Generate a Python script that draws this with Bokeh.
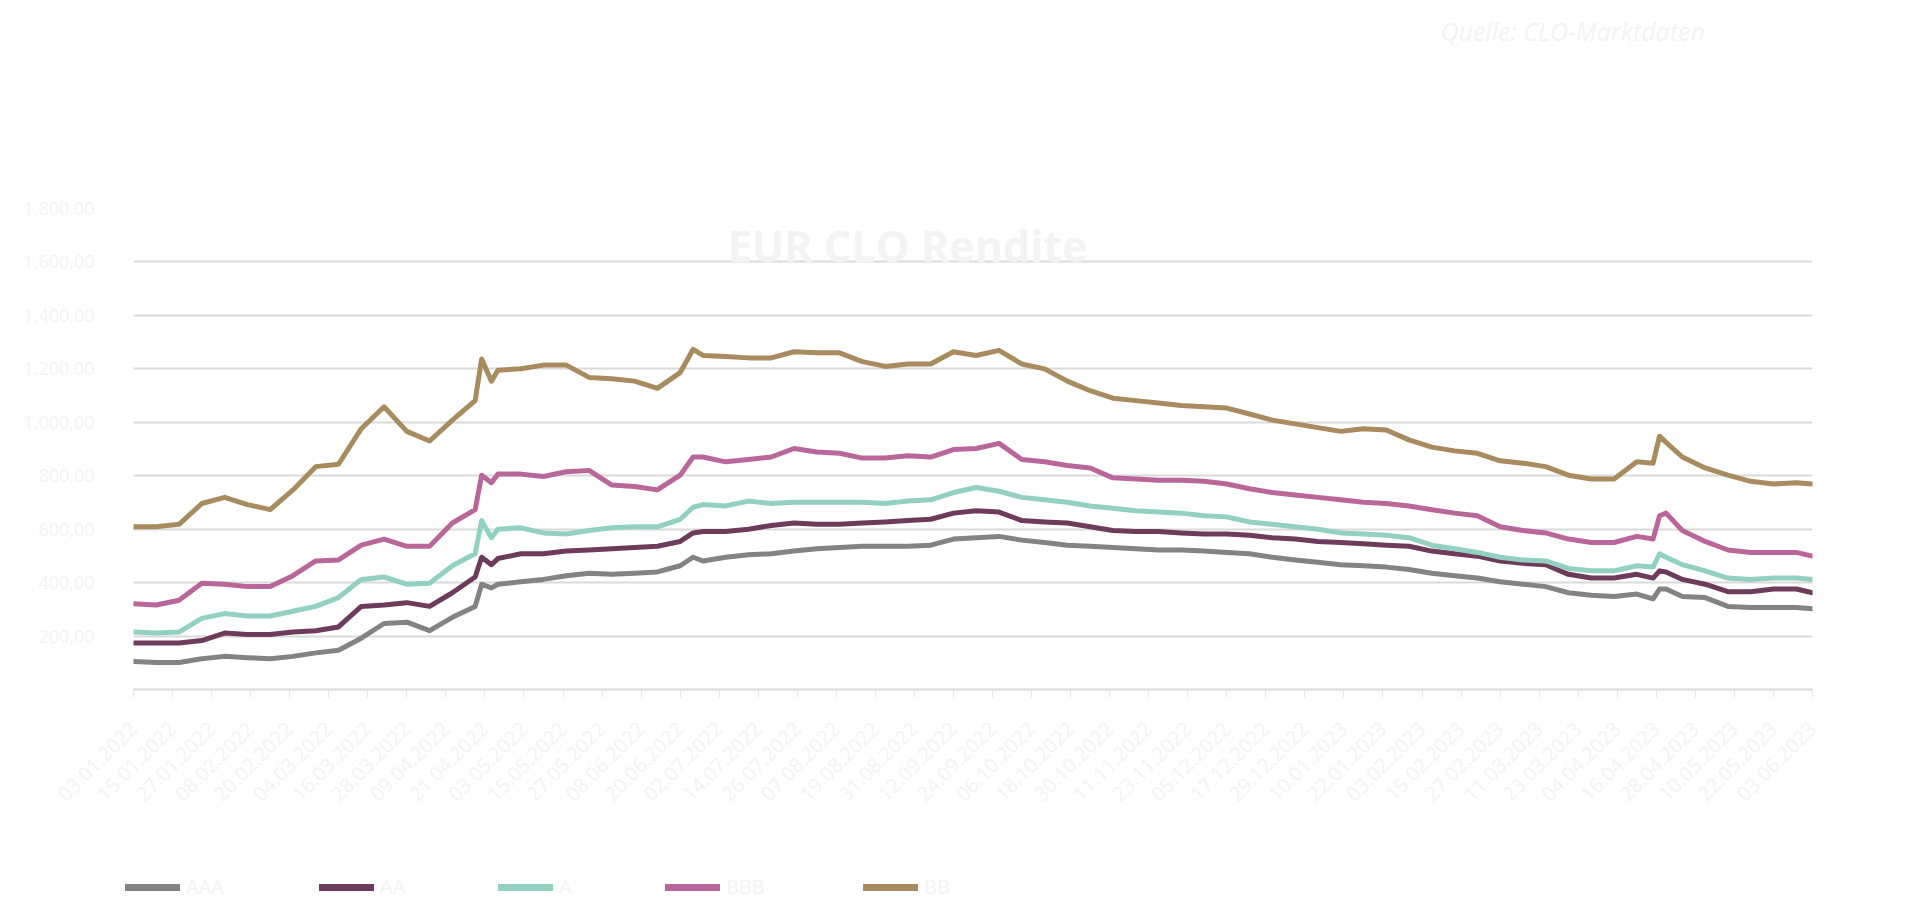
import pandas as pd
from bokeh.plotting import figure
from bokeh.layouts import column
from bokeh.models import (Range1d, FixedTicker, DatetimeTickFormatter, Label,
                          Legend, LegendItem)
from bokeh.embed import file_html
from bokeh.resources import INLINE

# ---------------- data ----------------
dates = [
    "2022-01-03", "2022-01-10", "2022-01-17", "2022-01-24", "2022-01-31",
    "2022-02-07", "2022-02-14", "2022-02-21", "2022-02-28",
    "2022-03-07", "2022-03-14", "2022-03-21", "2022-03-28",
    "2022-04-04", "2022-04-11", "2022-04-18", "2022-04-20", "2022-04-23", "2022-04-25",
    "2022-05-02", "2022-05-09", "2022-05-16", "2022-05-23", "2022-05-30",
    "2022-06-06", "2022-06-13", "2022-06-20", "2022-06-24", "2022-06-27",
    "2022-07-04", "2022-07-11", "2022-07-18", "2022-07-25",
    "2022-08-01", "2022-08-08", "2022-08-15", "2022-08-22", "2022-08-29",
    "2022-09-05", "2022-09-12", "2022-09-19", "2022-09-26",
    "2022-10-03", "2022-10-10", "2022-10-17", "2022-10-24", "2022-10-31",
    "2022-11-07", "2022-11-14", "2022-11-21", "2022-11-28",
    "2022-12-05", "2022-12-12", "2022-12-19", "2022-12-26",
    "2023-01-02", "2023-01-09", "2023-01-16", "2023-01-23", "2023-01-30",
    "2023-02-06", "2023-02-13", "2023-02-20", "2023-02-27",
    "2023-03-06", "2023-03-13", "2023-03-20", "2023-03-27",
    "2023-04-03", "2023-04-10", "2023-04-15", "2023-04-17", "2023-04-19", "2023-04-24",
    "2023-05-01", "2023-05-08", "2023-05-15", "2023-05-22", "2023-05-29", "2023-06-03",
]

aaa = [105, 101, 101, 115, 124, 119, 115, 124, 137, 147, 192, 247, 252, 220, 270, 311,
       394, 380, 394, 403, 412, 426, 435, 431, 435, 440, 463, 495, 481, 495, 504, 508,
       518, 527, 531, 536, 536, 536, 540, 563, 568, 573, 559, 550, 540, 536, 531, 527,
       522, 522, 518, 513, 508, 495, 485, 476, 467, 463, 458, 449, 435, 426, 417, 403,
       394, 385, 362, 353, 348, 357, 339, 376, 376, 348, 344, 311, 307, 307, 307, 302]

aa = [174, 174, 174, 183, 211, 206, 206, 215, 220, 234, 311, 316, 325, 311, 362, 421,
      495, 467, 490, 508, 508, 518, 522, 527, 531, 536, 554, 586, 591, 591, 600, 614,
      623, 618, 618, 623, 627, 632, 637, 660, 669, 664, 632, 627, 623, 609, 595, 591,
      591, 586, 582, 582, 577, 568, 563, 554, 550, 545, 540, 536, 518, 508, 499, 481,
      472, 467, 431, 417, 417, 431, 417, 444, 440, 412, 394, 366, 366, 376, 376, 362]

a = [215, 211, 215, 266, 284, 275, 275, 293, 311, 344, 412, 421, 394, 398, 463, 508,
     632, 568, 600, 605, 586, 582, 595, 605, 609, 609, 637, 682, 692, 687, 705, 696,
     701, 701, 701, 701, 696, 705, 710, 737, 756, 742, 719, 710, 701, 687, 678, 669,
     664, 660, 650, 646, 627, 618, 609, 600, 586, 582, 577, 568, 540, 527, 513, 495,
     485, 481, 453, 444, 444, 463, 458, 508, 495, 467, 444, 417, 412, 417, 417, 412]

bbb = [321, 316, 334, 398, 394, 385, 385, 426, 481, 485, 540, 563, 536, 536, 623, 673,
       802, 774, 806, 806, 797, 815, 820, 765, 760, 747, 802, 870, 870, 852, 861, 870,
       902, 889, 884, 866, 866, 875, 870, 898, 902, 921, 861, 852, 838, 829, 792, 788,
       783, 783, 779, 769, 751, 737, 728, 719, 710, 701, 696, 687, 673, 660, 650, 609,
       595, 586, 563, 550, 550, 573, 563, 650, 660, 595, 554, 522, 513, 513, 513, 499]

bb = [609, 609, 618, 696, 719, 692, 673, 747, 834, 843, 976, 1058, 966, 930, 1008, 1081,
      1237, 1154, 1195, 1200, 1214, 1214, 1168, 1163, 1154, 1127, 1186, 1273, 1250, 1246, 1241, 1241,
      1264, 1260, 1260, 1227, 1209, 1218, 1218, 1264, 1250, 1269, 1218, 1200, 1154, 1118, 1090, 1081,
      1072, 1063, 1058, 1053, 1031, 1008, 994, 980, 966, 976, 971, 934, 907, 893, 884, 856,
      847, 834, 802, 788, 788, 852, 847, 948, 925, 870, 829, 802, 779, 769, 774, 769]

series_names = ["AAA", "AA", "A", "BBB", "BB"]
series_values = [aaa, aa, a, bbb, bb]
series_colors = ["#838383", "#6d3b5c", "#92d0c2", "#b9679b", "#a88b5f"]

y_ticks = [0, 200, 400, 600, 800, 1000, 1200, 1400, 1600, 1800]
y_tick_labels = ["", "200,00", "400,00", "600,00", "800,00", "1.000,00",
                 "1.200,00", "1.400,00", "1.600,00", "1.800,00"]

x_start = "2022-01-03"
x_end = "2023-06-03"
x_tick_count = 44
x_tick_step = "12D"

title_text = "EUR CLO Rendite"
source_text = "Quelle: CLO-Marktdaten"

# ---------------- style ----------------
FAINT = "#f3f3f3"
GRID = "#dadada"
FONT = "Open Sans"
W = 1904


def blank_fig(h):
    f = figure(width=W, height=h, x_range=Range1d(0, 1), y_range=Range1d(0, 1),
               x_axis_type=None, y_axis_type=None, min_border=0,
               output_backend="svg", toolbar_location=None)
    f.frame_align = False
    f.outline_line_color = None
    f.grid.visible = False
    return f


# ---------------- header strip with the source note ----------------
top = blank_fig(60)
top.add_layout(Label(x=1440, y=30, x_units="screen", y_units="screen", text=source_text,
                     text_align="left", text_baseline="middle",
                     text_font=FONT, text_font_size="25px", text_font_style="italic",
                     text_color=FAINT))

# ---------------- main chart ----------------
x = pd.to_datetime(dates)
tick_dates = pd.date_range(x_start, periods=x_tick_count, freq=x_tick_step)
tick_ms = [int(t.value // 10**6) for t in tick_dates]

p = figure(width=W, height=800, x_axis_type="datetime",
           x_range=Range1d(pd.Timestamp(x_start), pd.Timestamp(x_end)),
           y_range=Range1d(0, 1800),
           min_border_left=133, min_border_right=92,
           min_border_top=148, min_border_bottom=171,
           output_backend="svg", toolbar_location=None)
p.frame_align = False
p.outline_line_color = None

for name, vals, col in zip(series_names, series_values, series_colors):
    p.line(x, vals, line_color=col, line_width=5, line_join="round", line_cap="round")

p.yaxis.ticker = FixedTicker(ticks=y_ticks)
p.yaxis.major_label_overrides = {t: lab for t, lab in zip(y_ticks, y_tick_labels)}
p.yaxis.axis_line_color = None
p.yaxis.major_tick_line_color = None
p.yaxis.minor_tick_line_color = None
p.yaxis.major_label_standoff = 33
p.yaxis.major_label_text_color = FAINT
p.yaxis.major_label_text_font = FONT
p.yaxis.major_label_text_font_size = "18px"
p.ygrid.grid_line_color = GRID
p.ygrid.grid_line_width = 2
p.ygrid.ticker = FixedTicker(ticks=y_ticks)

p.xaxis.ticker = FixedTicker(ticks=tick_ms)
fmt = "%d.%m.%Y"
p.xaxis.formatter = DatetimeTickFormatter(days=fmt, months=fmt, years=fmt, hours=fmt,
                                          hourmin=fmt, minutes=fmt, minsec=fmt,
                                          seconds=fmt, milliseconds=fmt,
                                          microseconds=fmt)
p.xaxis.major_label_orientation = 0.785398
p.xaxis.axis_line_color = GRID
p.xaxis.axis_line_width = 2
p.xaxis.major_tick_line_color = "#e6e6e6"
p.xaxis.major_tick_in = 0
p.xaxis.major_tick_out = 8
p.xaxis.minor_tick_line_color = None
p.xaxis.major_label_text_color = FAINT
p.xaxis.major_label_text_font = FONT
p.xaxis.major_label_text_font_size = "20px"
p.xaxis.major_label_standoff = 28
p.xgrid.grid_line_color = None

p.add_layout(Label(x=774, y=444, x_units="screen", y_units="screen", text=title_text,
                   text_align="center", text_baseline="middle",
                   text_font=FONT, text_font_size="43px", text_font_style="bold",
                   text_color=FAINT))

# ---------------- legend strip ----------------
leg = blank_fig(48)
legend_x = [125, 319, 498, 665, 863]
for name, col, lx in zip(series_names, series_colors, legend_x):
    # legend key only: a single point outside the strip's range draws nothing itself
    key = leg.line(x=[-1], y=[-1], line_color=col, line_width=7, line_cap="round")
    leg.add_layout(Legend(items=[LegendItem(label=name, renderers=[key])],
                          location=(lx, 8), orientation="horizontal",
                          padding=0, margin=0, border_line_color=None,
                          background_fill_alpha=0, glyph_width=55, glyph_height=24,
                          label_standoff=6, label_text_color=FAINT,
                          label_text_font=FONT, label_text_font_size="20px"))

layout = column(top, p, leg, spacing=0)
open("out.html", "w").write(file_html(layout, INLINE))
